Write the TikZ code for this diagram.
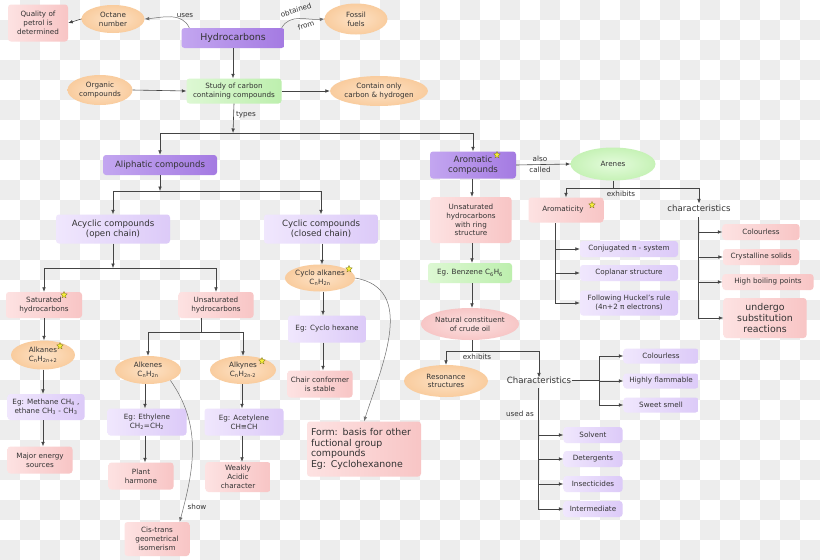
\documentclass[tikz,border=0pt]{standalone}
\usepackage{fontspec}
\setmainfont{DejaVu Sans}
\usetikzlibrary{arrows.meta,shapes.geometric,calc}
\definecolor{txt}{HTML}{333333}
\definecolor{lnc}{HTML}{444444}
\definecolor{crv}{HTML}{6E6E6E}
\definecolor{chk}{HTML}{EDEDED}
\definecolor{dpL}{HTML}{C3A6F0}
\definecolor{dpR}{HTML}{A47AE2}
\definecolor{lpL}{HTML}{F0E7FD}
\definecolor{lpR}{HTML}{DCCAF8}
\definecolor{pkL}{HTML}{FDE2E2}
\definecolor{pkR}{HTML}{F8C5C5}
\definecolor{gnL}{HTML}{DDF8D3}
\definecolor{gnR}{HTML}{BDEFAE}
\definecolor{peachI}{HTML}{FDE2C6}
\definecolor{peachO}{HTML}{F9CC9E}
\definecolor{pkellI}{HTML}{FCE0E0}
\definecolor{pkellO}{HTML}{F7C6C6}
\definecolor{gnellI}{HTML}{E4FBDC}
\definecolor{gnellO}{HTML}{C6F2B6}
\definecolor{staryel}{HTML}{F6EE3A}
\newcommand\smallfnt{\fontsize{7.2}{8.8}\selectfont}
\newcommand\midfnt{\fontsize{8.6}{10.4}\selectfont}
\newcommand\bigfnt{\fontsize{9.4}{10.8}\selectfont}
\tikzset{
  base/.style={rounded corners=3pt, align=center, text=txt, inner sep=1pt, font=\smallfnt},
  sz/.style 2 args={minimum width=#1pt, minimum height=#2pt},
  dp/.style={base, left color=dpL, right color=dpR, font=\midfnt},
  lp/.style={base, left color=lpL, right color=lpR},
  pk/.style={base, left color=pkL, right color=pkR},
  gn/.style={base, left color=gnL, right color=gnR},
  pe/.style={ellipse, inner color=peachI, outer color=peachO, align=center, text=txt, inner sep=0pt, font=\smallfnt},
  pke/.style={ellipse, inner color=pkellI, outer color=pkellO, align=center, text=txt, inner sep=0pt, font=\smallfnt},
  gne/.style={ellipse, inner color=gnellI, outer color=gnellO, align=center, text=txt, inner sep=0pt, font=\smallfnt},
  plain/.style={align=center, text=txt, inner sep=1pt, font=\midfnt},
  lbl/.style={align=center, text=txt, inner sep=0pt, font=\smallfnt},
  arr/.style={draw=lnc, line width=0.6pt, -{Latex[length=4.5pt,width=3.6pt]}},
  ln/.style={draw=lnc, line width=0.6pt},
  carr/.style={draw=crv, line width=0.5pt, -{Latex[length=4.5pt,width=3.6pt]}},
  starx/.style={star, star points=5, star point ratio=2.1, fill=staryel, draw=olive!80!black, line width=0.3pt, minimum size=7pt, inner sep=0pt},
}
\begin{document}
\begin{tikzpicture}[x=1pt,y=1pt]
\useasboundingbox (0,0) rectangle (820,-560);
\fill[white] (0,0) rectangle (820,-560);
\foreach \i in {0,...,40}{
  \foreach \j in {0,...,27}{
    \pgfmathtruncatemacro\kk{mod(\i+\j,2)}
    \ifnum\kk=1 \fill[chk] (\i*20,-\j*20) rectangle ++(20,-20);\fi
  }
}
% ---------- top ----------
\node[pk, sz={60}{37}] (qual) at (38,-23) {Quality of\\petrol is\\determined};
\node[pe, sz={63}{28}] (oct) at (113,-19) {Octane\\number};
\node[dp, sz={103}{20}, font=\bigfnt] (hc) at (233,-38) {Hydrocarbons};
\node[pe, sz={63}{31}] (fos) at (356,-19) {Fossil\\fuels};
\node[pe, sz={65}{30}] (org) at (100,-90) {Organic\\compounds};
\node[gn, sz={95}{25}] (study) at (234,-91) {Study of carbon\\containing compounds};
\node[pe, sz={84}{30}] (cont) at (379,-91) {Contain only\\carbon \& hydrogen};
\draw[arr] (oct.west) -- (qual.east);
\draw[carr] ([xshift=8pt]hc.north west) to[out=115,in=5] (oct.east);
\node[lbl] (luses) at (185,-16) {uses};
\draw[carr] ([xshift=-3pt]hc.north east) to[out=60,in=185] (fos.west);
\node[lbl, rotate=18] (lobt) at (296,-10) {obtained};
\node[lbl, rotate=18] (lfrom) at (306,-25) {from};
\draw[arr] (hc.south) -- (hc.south |- study.north);
\draw[arr] (org.east) -- (study.west);
\draw[arr] (study.east) -- (cont.west);
% ---------- types ----------
\coordinate (t1) at (233,-133);
\node[lbl] (ltypes) at (246,-115) {types};
\node[dp, sz={114}{20}] (ali) at (160,-165) {Aliphatic compounds};
\node[dp, sz={86}{27}] (arom) at (473,-165) {Aromatic\\compounds};
\node[starx] (s1) at (497,-155) {};
\draw[arr] (study.south) -- (t1);
\draw[arr] (t1) -| (ali.north);
\draw[arr] (t1) -| (arom.north);
% ---------- aliphatic ----------
\coordinate (t2) at (160,-191);
\node[lp, sz={114}{29}, font=\midfnt] (acy) at (113,-229) {Acyclic compounds\\(open chain)};
\node[lp, sz={114}{29}, font=\midfnt] (cyc) at (321,-229) {Cyclic compounds\\(closed chain)};
\draw[arr] (ali.south) -- (t2);
\draw[arr] (t2) -| (acy.north);
\draw[arr] (t2) -| (cyc.north);
% acyclic
\coordinate (t3) at (113,-268);
\node[pk, sz={76}{26}] (sat) at (44,-305) {Saturated\\hydrocarbons};
\node[starx] (s2) at (64,-295) {};
\node[pk, sz={75}{26}] (unsat) at (216,-305) {Unsaturated\\hydrocarbons};
\draw[arr] (acy.south) -- (t3);
\draw[arr] (t3) -| (sat.north);
\draw[arr] (t3) -| (unsat.north);
\node[pe, sz={64}{29}] (alkn) at (43,-355) {Alkanes\\C\textsubscript{n}H\textsubscript{2n+2}};
\node[starx] (s3) at (60,-346) {};
\node[lp, sz={77}{26}] (egm) at (46,-407) {Eg: Methane CH\textsubscript{4} ,\\ethane CH\textsubscript{3} - CH\textsubscript{3}};
\node[pk, sz={65}{27}] (mes) at (40,-460) {Major energy\\sources};
\draw[arr] (sat.south) -- (sat.south |- alkn.north);
\draw[arr] (alkn.south) -- (alkn.south |- egm.north);
\draw[arr] (alkn.south |- egm.south) -- (alkn.south |- mes.north);
\coordinate (t4) at (201,-332);
\node[pe, sz={66}{28}] (alke) at (148,-370) {Alkenes\\C\textsubscript{n}H\textsubscript{2n}};
\node[pe, sz={66}{28}] (alky) at (243,-370) {Alkynes\\C\textsubscript{n}H\textsubscript{2n-2}};
\node[starx] (s4) at (262,-361) {};
\draw[ln] (t4 |- unsat.south) -- (t4);
\draw[arr] (t4) -| (alke.north);
\draw[arr] (t4) -| (alky.north);
\node[lp, sz={79}{27}] (ege) at (147,-422) {Eg: Ethylene\\CH\textsubscript{2}=CH\textsubscript{2}};
\node[pk, sz={65}{27}] (pla) at (141,-476) {Plant\\harmone};
\node[lp, sz={79}{27}] (ega) at (244,-422) {Eg: Acetylene\\CH≡CH};
\node[pk, sz={65}{30}] (wea) at (238,-477) {Weakly\\Acidic\\character};
\node[pk, sz={65}{34}] (cis) at (157,-539) {Cis-trans\\geometrical\\isomerism};
\draw[arr] (alke.south -| 145,0) -- (ege.north -| 145,0);
\draw[arr] (ege.south -| 145,0) -- (pla.north -| 145,0);
\draw[arr] (alky.south -| 242,0) -- (ega.north -| 242,0);
\draw[arr] (ega.south -| 242,0) -- (wea.north -| 242,0);
\draw[carr] (alke.-25) to[out=-55,in=75] ([xshift=-10pt]cis.north east);
\node[lbl] (lshow) at (197,-507) {show};
% cyclic
\node[pe, sz={67}{27}] (cyca) at (320,-278) {Cyclo alkanes\\C\textsubscript{n}H\textsubscript{2n}};
\node[starx] (s5) at (349,-269) {};
\node[lp, sz={78}{27}] (egc) at (327,-329) {Eg: Cyclo hexane};
\node[pk, sz={65}{27}] (cha) at (320,-384) {Chair conformer\\is stable};
\node[pk, sz={114}{55}, align=left, font=\bigfnt, text width=106pt] (form) at (364,-449) {Form: basis for other\\fuctional group\\compounds\\Eg: Cyclohexanone};
\draw[arr] (cyc.south -| 322,0) -- (cyca.north -| 322,0);
\draw[arr] (cyca.south -| 323,0) -- (egc.north -| 323,0);
\draw[arr] (egc.south -| 323,0) -- (cha.north -| 323,0);
\draw[carr] (cyca.east) to[out=-10,in=72,looseness=1.1] (form.north);
% ---------- aromatic ----------
\node[gne, sz={85}{33}] (aren) at (613,-164) {Arenes};
\draw[arr] (arom.east) -- (aren.west);
\node[lbl] (lalso) at (540,-159) {also};
\node[lbl] (lcalled) at (540,-170) {called};
\coordinate (t5) at (613,-188);
\node[pk, sz={75}{25}] (aroma) at (566,-210) {Aromaticity\hspace{6pt}};
\node[starx] (s6) at (592,-205) {};
\node[plain] (char1) at (699,-208) {characteristics};
\draw[ln] (aren.south) -- (t5);
\draw[arr] (t5) -| (aroma.north);
\draw[arr] (t5) -| (char1.north);
\node[lbl] (lexh1) at (621,-194) {exhibits};
\node[lp, sz={98}{16}] (conj) at (629,-249) {Conjugated π - system};
\node[lp, sz={98}{16}] (copl) at (629,-273) {Coplanar structure};
\node[lp, sz={98}{25}] (huck) at (629,-303) {Following Huckel's rule\\(4n+2 π electrons)};
\coordinate (av) at (555,-223);
\draw[arr] (av) |- (conj.west);
\draw[arr] (av) |- (copl.west);
\draw[arr] (av) |- (huck.west);
\node[pk, sz={77}{16}] (col1) at (761,-232) {Colourless};
\node[pk, sz={76}{16}] (crys) at (761,-257) {Crystalline solids};
\node[pk, sz={91}{16}] (hbp) at (768,-282) {High boiling points};
\node[pk, sz={83}{40}, font=\bigfnt] (und) at (765,-318) {undergo\\substitution\\reactions};
\coordinate (cv) at (698,-217);
\draw[arr] (cv) |- (col1.west);
\draw[arr] (cv) |- (crys.west);
\draw[arr] (cv) |- (hbp.west);
\draw[arr] (cv) |- (und.west);
\node[pk, sz={81}{46}] (urs) at (471,-220) {Unsaturated\\hydrocarbons\\with ring\\structure};
\node[gn, sz={84}{20}] (benz) at (470,-273) {Eg. Benzene C\textsubscript{6}H\textsubscript{6}};
\node[pke, sz={85}{32}] (nat) at (470,-324) {Natural constituent\\of crude oil};
\draw[arr] (arom.south -| 472,0) -- (urs.north -| 472,0);
\draw[arr] (urs.south -| 472,0) -- (benz.north -| 472,0);
\draw[arr] (benz.south -| 472,0) -- (nat.north -| 472,0);
\coordinate (t6) at (472,-351);
\node[pe, sz={84}{32}] (res) at (446,-381) {Resonance\\structures};
\node[plain] (char2) at (539,-380) {Characteristics};
\draw[ln] (nat.south -| t6) -- (t6);
\draw[arr] (t6) -| (res.north);
\draw[arr] (t6) -| ([yshift=-2pt]char2.north);
\node[lbl] (lexh2) at (477,-357) {exhibits};
\coordinate (cj) at (599,-380);
\node[lp, sz={75}{15}] (col2) at (661,-356) {Colourless};
\node[lp, sz={75}{15}] (hfl) at (661,-381) {Highly flammable};
\node[lp, sz={75}{15}] (ssm) at (661,-405) {Sweet smell};
\draw[ln] (char2.east) -- (cj);
\draw[arr] (cj) |- (col2.west);
\draw[arr] (cj) |- (hfl.west);
\draw[arr] (cj) |- (ssm.west);
\coordinate (dv) at (538,-388);
\node[lbl] (lused) at (520,-414) {used as};
\node[lp, sz={59}{16}] (solv) at (593,-435) {Solvent};
\node[lp, sz={59}{16}] (dete) at (593,-459) {Detergents};
\node[lp, sz={59}{16}] (inse) at (593,-484) {Insecticides};
\node[lp, sz={59}{16}] (inte) at (593,-509) {Intermediate};
\draw[arr] (dv) |- (solv.west);
\draw[arr] (dv) |- (dete.west);
\draw[arr] (dv) |- (inse.west);
\draw[arr] (dv) |- (inte.west);
\end{tikzpicture}
\end{document}
